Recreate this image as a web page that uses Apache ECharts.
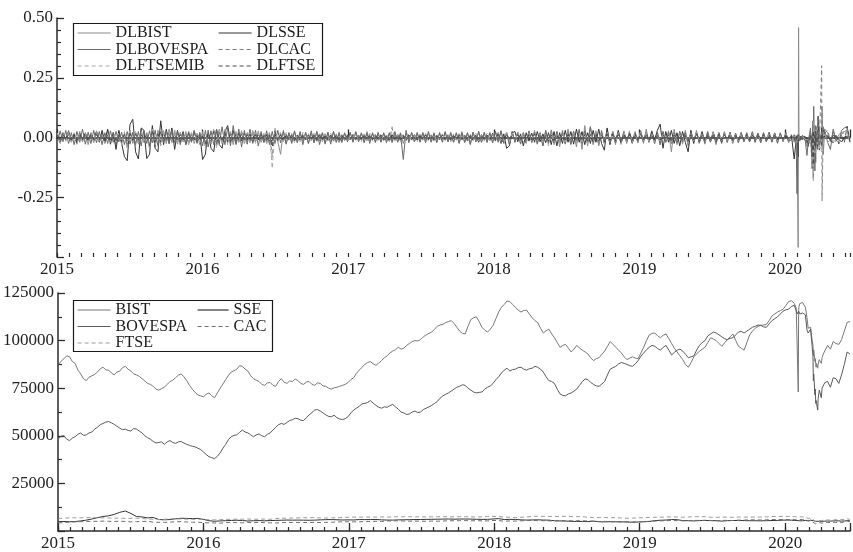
<!DOCTYPE html>
<html>
<head>
<meta charset="utf-8">
<script src="https://cdn.jsdelivr.net/npm/echarts@6/dist/echarts.min.js"></script>
<style>
  html, body { margin: 0; padding: 0; background: #fff; }
  #chart { width: 853px; height: 552px; }
</style>
</head>
<body>
<div id="chart"></div>
<script>
// Sampling: weekly from 2 Jan 2015 (returns, BIST, BOVESPA), every 14 days for the
// smaller indices, then finer dates through the 2020 sell-off
const seriesStart = '2015-01-02';
const weekCount = 263;
const fortnightCount = 132;
const tailDates = [
  '2020-01-17','2020-01-24','2020-01-29','2020-01-31','2020-02-03','2020-02-04','2020-02-05','2020-02-07',
  '2020-02-14','2020-02-21','2020-02-25','2020-02-28','2020-03-05','2020-03-09','2020-03-11','2020-03-12',
  '2020-03-13','2020-03-16','2020-03-17','2020-03-18','2020-03-19','2020-03-20','2020-03-23','2020-03-24',
  '2020-03-27','2020-04-01','2020-04-02','2020-04-03','2020-04-06','2020-04-10','2020-04-17','2020-04-24',
  '2020-05-01','2020-05-08','2020-05-15','2020-05-22','2020-05-29','2020-06-05','2020-06-12'
];
const yearLabels = [2015, 2016, 2017, 2018, 2019, 2020];

// ---- log returns (weekly grid + tail) ----
const dlBist = [
  0.018,-0.025,0.022,-0.015,0.03,-0.02,0.012,-0.028,0.025,-0.018,0.015,-0.03,0.02,
  -0.022,0.028,-0.015,0.02,-0.025,0.03,-0.018,0.022,-0.03,0.025,-0.02,0.015,-0.035,
  0.03,-0.025,0.02,-0.028,0.035,-0.022,0.018,-0.03,0.025,-0.04,0.03,-0.02,0.028,
  -0.025,0.035,-0.02,0.03,-0.028,0.022,-0.018,0.025,-0.03,0.02,-0.025,0.018,-0.03,
  0.025,-0.035,0.02,-0.028,0.03,-0.02,0.035,-0.025,0.028,-0.018,0.022,-0.03,0.025,
  -0.02,0.028,-0.025,0.018,-0.022,0.03,-0.018,0.025,-0.02,0.015,-0.025,0.02,-0.03,
  0.022,-0.018,-0.07,0.03,-0.025,0.02,-0.018,0.025,-0.022,0.018,-0.015,0.02,-0.025,
  0.018,-0.022,0.025,-0.015,0.02,-0.028,0.022,-0.018,0.025,-0.02,0.015,-0.022,0.018,
  -0.015,0.02,-0.018,0.022,-0.015,0.018,-0.02,0.025,-0.015,0.018,-0.022,0.015,-0.018,
  0.02,-0.015,0.018,-0.022,0.015,-0.018,0.02,-0.025,0.018,-0.015,0.022,-0.018,0.015,
  -0.018,0.022,-0.015,0.018,-0.02,0.015,-0.018,0.022,-0.015,0.02,-0.018,0.015,-0.02,
  0.018,-0.022,0.025,-0.018,0.02,-0.03,0.022,-0.018,0.025,-0.02,0.018,-0.022,0.02,
  -0.02,0.025,-0.018,0.028,-0.022,0.02,-0.03,0.025,-0.02,0.022,-0.028,0.02,-0.025,
  0.028,-0.022,0.03,-0.025,0.02,-0.035,0.028,-0.025,0.032,-0.03,0.025,-0.038,0.03,
  -0.028,0.035,-0.03,0.025,-0.04,0.035,-0.05,0.05,-0.035,0.045,-0.03,0.028,-0.035,
  0.03,-0.025,0.035,-0.028,0.022,-0.03,0.025,-0.02,0.028,-0.025,0.02,-0.022,0.025,
  -0.022,0.03,-0.025,0.035,-0.02,0.028,-0.025,0.022,-0.03,0.025,-0.02,0.028,-0.06,
  0.035,-0.03,0.025,-0.028,0.03,-0.035,0.025,-0.02,0.03,-0.025,0.02,-0.028,0.022,
  -0.02,0.025,-0.03,0.022,-0.018,0.025,-0.022,0.02,-0.025,0.018,-0.02,0.022,-0.018,
  0.02,-0.018,0.025,-0.02,0.018,-0.022,0.02,-0.015,0.022,-0.018,0.02,-0.025,0.018,
  -0.015,0.02,-0.022,
  0.012,-0.02,-0.015,0.01,-0.46,0.46,0.012,-0.01,0.008,-0.015,-0.035,-0.04,0.02,-0.05,0.02,-0.06,
  0.03,-0.07,0.02,-0.035,-0.02,0.025,-0.035,0.03,0.025,-0.03,0.02,0.13,-0.07,0.035,0.02,-0.018,
  0.025,-0.015,0.012,0.02,0.025,0.03,-0.015
];
const dlSse = [
  0.012,-0.02,0.018,-0.008,0.025,-0.015,0.01,-0.022,0.016,-0.01,0.02,-0.012,0.018,
  -0.015,0.025,-0.02,0.03,-0.018,0.035,-0.028,0.02,-0.05,0.03,-0.025,-0.08,-0.097,
  0.055,0.076,-0.06,-0.09,0.04,0.03,-0.088,-0.07,0.05,-0.045,-0.06,0.07,-0.03,
  0.035,-0.025,0.04,-0.05,0.03,-0.02,0.025,-0.03,0.02,-0.018,0.025,-0.02,0.015,
  -0.092,-0.07,0.03,-0.045,-0.06,0.035,-0.03,-0.045,0.025,0.05,-0.02,0.03,-0.025,
  0.02,-0.015,0.018,-0.012,0.015,-0.02,0.012,-0.01,0.015,-0.018,0.012,-0.015,-0.013,
  0.012,-0.01,0.015,-0.012,0.01,-0.008,0.012,-0.015,0.01,-0.012,0.008,-0.01,0.012,
  -0.008,0.01,-0.012,0.015,-0.01,0.008,-0.012,0.01,-0.015,0.012,-0.02,0.01,-0.012,
  0.008,-0.01,0.012,-0.008,0.01,-0.006,0.009,-0.012,0.008,-0.01,0.012,-0.008,0.01,
  -0.012,0.008,-0.015,0.01,-0.008,0.012,-0.01,0.008,-0.012,0.01,-0.008,0.012,-0.01,
  0.008,-0.01,0.012,-0.008,0.01,-0.012,0.008,-0.01,0.012,-0.008,0.01,-0.012,0.008,
  -0.01,0.012,-0.008,0.01,-0.015,0.008,-0.012,0.01,-0.02,0.012,-0.008,0.01,-0.012,
  0.018,-0.015,0.02,-0.025,0.015,-0.045,-0.035,0.02,0.025,-0.018,0.015,-0.035,0.02,
  -0.015,0.018,-0.02,0.025,-0.018,0.015,-0.022,0.02,-0.03,0.025,-0.035,0.02,-0.025,
  0.03,-0.02,0.025,-0.028,0.035,-0.02,0.025,-0.03,0.02,-0.025,0.03,-0.02,0.035,
  -0.025,-0.053,0.04,-0.03,0.025,-0.02,0.03,-0.025,0.02,-0.018,0.015,-0.022,0.018,
  -0.015,0.02,-0.012,0.018,-0.015,0.025,-0.01,0.03,0.056,-0.045,0.025,-0.02,0.03,
  -0.025,0.02,-0.035,0.025,-0.02,-0.06,0.03,-0.025,0.02,-0.018,0.025,-0.02,0.015,
  -0.018,0.02,-0.015,0.012,-0.02,0.015,-0.012,0.018,-0.015,0.01,-0.012,0.015,-0.01,
  0.012,-0.015,0.01,-0.012,0.014,-0.01,0.012,-0.015,0.01,-0.012,0.015,-0.01,0.012,
  -0.008,0.01,-0.012,
  0.008,-0.09,-0.01,0.005,-0.08,0.013,0.012,0.003,0.004,0.003,-0.006,-0.037,0.02,-0.03,-0.009,-0.015,
  -0.012,-0.034,0.001,-0.018,-0.01,0.013,-0.031,0.021,0.003,-0.006,0.017,-0.006,0.003,0.003,0.007,-0.011,
  0.008,0.004,-0.007,-0.019,0.002,0.006,0.001
];
const dlBovespa = [
  -0.022,0.028,-0.018,0.03,-0.025,0.02,-0.03,0.025,-0.02,0.035,-0.028,0.022,-0.025,
  0.03,-0.022,0.025,-0.03,0.02,-0.025,0.028,-0.02,0.025,-0.018,0.022,-0.03,0.025,
  -0.028,0.022,-0.03,0.025,-0.035,0.03,-0.025,0.028,-0.022,0.03,-0.035,0.025,-0.02,
  0.028,-0.025,0.03,-0.022,0.025,-0.03,0.02,-0.028,0.025,-0.02,0.03,-0.025,0.022,
  -0.035,0.03,-0.04,0.028,-0.03,0.035,-0.025,0.045,-0.03,0.04,-0.035,0.05,-0.03,
  0.035,-0.04,0.03,-0.028,0.035,-0.025,0.03,-0.035,0.025,-0.022,0.028,-0.03,0.025,
  -0.025,0.03,-0.022,0.025,-0.028,0.02,-0.025,0.028,-0.02,0.025,-0.03,0.022,-0.025,
  0.028,-0.022,0.025,-0.03,0.02,-0.025,0.022,-0.028,0.025,-0.02,0.022,-0.018,0.02,
  -0.018,0.022,-0.02,0.025,-0.018,0.02,-0.022,0.018,-0.025,0.02,-0.018,0.022,-0.02,
  0.018,-0.022,0.02,-0.018,0.025,-0.02,0.018,-0.092,0.03,-0.022,0.02,-0.018,0.022,
  -0.02,0.018,-0.022,0.025,-0.018,0.02,-0.022,0.018,-0.02,0.025,-0.018,0.022,-0.02,
  0.02,-0.025,0.018,-0.022,0.02,-0.028,0.022,-0.018,0.025,-0.02,0.022,-0.018,0.02,
  -0.022,0.025,-0.02,0.028,-0.025,0.022,-0.03,0.025,-0.02,0.022,-0.025,0.02,-0.022,
  0.025,-0.02,0.022,-0.028,0.02,-0.035,0.03,-0.025,0.028,-0.022,0.025,-0.02,0.022,
  -0.025,0.02,-0.028,0.025,-0.02,0.03,-0.025,0.028,-0.022,0.045,-0.025,0.02,-0.028,
  0.025,-0.022,0.02,-0.025,0.022,-0.018,0.025,-0.02,0.022,-0.018,0.02,-0.025,0.018,
  -0.02,0.025,-0.018,0.022,-0.02,0.018,-0.025,0.02,-0.03,0.025,-0.02,0.022,-0.025,
  0.02,-0.022,0.025,-0.018,0.02,-0.025,0.022,-0.018,0.02,-0.022,0.018,-0.02,0.025,
  -0.018,0.022,-0.02,0.018,-0.025,0.02,-0.018,0.022,-0.02,0.018,-0.022,0.02,-0.018,
  0.02,-0.018,0.022,-0.02,0.018,-0.022,0.02,-0.018,0.022,-0.02,0.018,-0.022,0.02,
  -0.018,0.02,-0.015,
  -0.01,0.012,-0.02,-0.235,0.015,0.02,0.018,-0.015,0.01,-0.015,-0.075,-0.02,0.04,-0.13,0.07,-0.17,
  0.13,-0.14,0.05,-0.105,0.02,-0.018,-0.05,0.09,0.035,-0.02,0.04,-0.03,0.04,0.025,-0.02,-0.05,
  0.035,-0.01,-0.02,0.03,0.04,0.045,-0.02
];
const dlCac = [
  0.012,-0.015,0.018,-0.01,0.02,-0.012,0.015,-0.018,0.01,-0.015,0.012,-0.02,0.015,
  -0.012,0.018,-0.015,0.01,-0.02,0.015,-0.012,0.018,-0.015,0.012,-0.025,0.02,-0.04,
  0.03,-0.02,0.025,-0.018,0.02,-0.015,0.018,-0.045,0.035,-0.025,0.02,-0.03,0.025,
  -0.02,0.025,-0.018,0.02,-0.015,0.018,-0.012,0.015,-0.02,0.018,-0.015,0.012,-0.018,
  0.015,-0.03,0.025,-0.02,0.03,-0.035,0.025,-0.02,0.028,-0.025,0.02,-0.018,0.022,
  -0.018,0.02,-0.015,0.018,-0.012,0.015,-0.018,0.02,-0.015,0.012,-0.018,0.015,-0.08,
  0.03,-0.015,0.018,-0.012,0.015,-0.01,0.012,-0.015,0.01,-0.012,0.015,-0.01,0.012,
  -0.01,0.012,-0.015,0.01,-0.012,0.015,-0.01,0.012,-0.008,0.01,-0.012,0.01,-0.008,
  0.01,-0.008,0.012,-0.01,0.008,-0.012,0.01,-0.008,0.012,-0.01,0.008,-0.01,0.012,
  -0.008,0.01,-0.012,0.04,-0.01,0.008,-0.012,0.01,-0.008,0.012,-0.01,0.008,-0.012,
  0.01,-0.008,0.012,-0.01,0.008,-0.012,0.01,-0.008,0.012,-0.01,0.008,-0.012,0.01,
  -0.008,0.012,-0.01,0.008,-0.012,0.01,-0.008,0.012,-0.01,0.008,-0.01,0.012,-0.008,
  0.012,-0.01,0.015,-0.012,-0.025,0.02,-0.018,0.015,-0.012,0.018,-0.015,0.012,-0.018,
  0.015,-0.012,0.018,-0.01,0.012,-0.015,0.01,-0.018,0.012,-0.015,0.01,-0.012,0.015,
  -0.012,0.015,-0.01,0.012,-0.015,0.018,-0.012,0.015,-0.02,0.015,-0.025,0.018,-0.02,
  0.015,-0.022,0.018,-0.015,0.02,-0.018,0.015,-0.025,0.02,-0.018,0.022,-0.015,0.018,
  -0.015,0.02,-0.012,0.015,-0.018,0.012,-0.015,0.01,-0.012,0.015,-0.01,0.012,-0.015,
  0.012,-0.01,0.015,-0.012,0.01,-0.02,0.015,-0.012,0.018,-0.01,0.012,-0.015,0.01,
  -0.012,0.015,-0.025,0.02,-0.012,0.015,-0.01,0.012,-0.015,0.01,-0.012,0.015,-0.01,
  0.012,-0.01,0.015,-0.008,0.01,-0.012,0.008,-0.01,0.012,-0.008,0.01,-0.012,0.008,
  -0.01,0.012,-0.008,
  0.005,-0.012,0.008,-0.015,0.005,0.017,0.013,-0.003,0.004,-0.006,-0.019,-0.035,0.02,-0.085,0.015,-0.13,
  0.018,-0.06,0.026,-0.058,0.028,0.05,-0.033,0.08,-0.042,-0.045,0.3,-0.265,0.045,0.018,0.03,-0.013,
  -0.015,-0.012,-0.005,0.015,0.02,0.034,-0.02
];
const dlFtsemib = [
  0.018,-0.022,0.02,-0.015,0.025,-0.018,0.02,-0.025,0.015,-0.02,0.018,-0.025,0.02,
  -0.018,0.025,-0.02,0.015,-0.025,0.02,-0.018,0.022,-0.02,0.018,-0.03,0.025,-0.05,
  0.035,-0.025,0.03,-0.022,0.025,-0.02,0.022,-0.05,0.04,-0.03,0.025,-0.035,0.03,
  -0.025,0.03,-0.022,0.025,-0.02,0.022,-0.018,0.02,-0.025,0.022,-0.02,0.018,-0.022,
  0.02,-0.045,0.03,-0.025,0.04,-0.045,0.03,-0.025,0.035,-0.03,0.025,-0.022,0.028,
  -0.025,0.03,-0.02,0.025,-0.018,0.022,-0.025,0.028,-0.02,0.018,-0.025,0.022,-0.13,
  0.045,-0.02,0.025,-0.018,0.022,-0.015,0.018,-0.022,0.015,-0.018,0.022,-0.015,0.018,
  -0.015,0.018,-0.022,0.015,-0.018,0.02,-0.015,0.018,-0.012,0.015,-0.018,0.015,-0.012,
  0.015,-0.012,0.018,-0.015,0.012,-0.018,0.015,-0.012,0.018,-0.015,0.012,-0.015,0.018,
  -0.012,0.015,-0.018,0.045,-0.015,0.012,-0.018,0.015,-0.012,0.018,-0.015,0.012,-0.018,
  0.015,-0.012,0.018,-0.015,0.012,-0.018,0.015,-0.012,0.018,-0.015,0.012,-0.018,0.015,
  -0.012,0.018,-0.015,0.012,-0.018,0.015,-0.012,0.018,-0.015,0.012,-0.015,0.018,-0.012,
  0.018,-0.015,0.02,-0.018,-0.025,0.022,-0.02,0.018,-0.015,0.022,-0.018,0.015,-0.022,
  0.018,-0.015,0.022,-0.012,0.015,-0.02,0.015,-0.035,0.025,-0.02,0.015,-0.018,0.02,
  -0.018,0.02,-0.015,0.018,-0.02,0.022,-0.018,0.02,-0.025,0.02,-0.03,0.022,-0.025,
  0.02,-0.028,0.022,-0.02,0.025,-0.022,0.02,-0.03,0.025,-0.022,0.028,-0.02,0.022,
  -0.02,0.025,-0.015,0.02,-0.022,0.015,-0.02,0.012,-0.015,0.02,-0.012,0.015,-0.02,
  0.015,-0.012,0.02,-0.015,0.012,-0.025,0.02,-0.015,0.022,-0.012,0.015,-0.02,0.012,
  -0.015,0.02,-0.025,0.022,-0.015,0.018,-0.012,0.015,-0.018,0.012,-0.015,0.018,-0.012,
  0.015,-0.012,0.018,-0.01,0.012,-0.015,0.01,-0.012,0.015,-0.01,0.012,-0.015,0.01,
  -0.012,0.015,-0.01,
  0.004,-0.015,0.01,-0.023,0.006,0.02,0.012,0.002,0.005,-0.01,-0.015,-0.038,0.016,-0.12,-0.012,-0.185,
  0.07,-0.065,0.03,-0.028,0.015,0.017,-0.035,0.085,-0.035,-0.044,0.015,-0.008,0.03,0.012,-0.02,-0.01,
  -0.013,-0.017,-0.015,0.015,0.023,0.03,-0.025
];
const dlFtse = [
  0.01,-0.012,0.015,-0.008,0.012,-0.01,0.015,-0.012,0.008,-0.01,0.012,-0.015,0.01,
  -0.008,0.012,-0.01,0.008,-0.015,0.012,-0.01,0.015,-0.012,0.01,-0.018,0.015,-0.02,
  0.018,-0.012,0.015,-0.01,0.012,-0.01,0.012,-0.035,0.025,-0.018,0.015,-0.02,0.018,
  -0.012,0.015,-0.01,0.012,-0.01,0.012,-0.008,0.01,-0.012,0.01,-0.01,0.008,-0.012,
  0.01,-0.025,0.02,-0.015,0.025,-0.025,0.018,-0.015,0.02,-0.018,0.015,-0.012,0.015,
  -0.012,0.015,-0.01,0.012,-0.008,0.01,-0.012,0.015,-0.01,0.008,-0.012,0.01,-0.04,
  0.025,-0.012,0.01,-0.008,0.012,-0.01,0.008,-0.012,0.01,-0.008,0.012,-0.01,0.008,
  -0.008,0.01,-0.012,0.008,-0.01,0.012,-0.008,0.01,-0.006,0.008,-0.01,0.008,-0.006,
  0.008,-0.006,0.01,-0.008,0.006,-0.01,0.008,-0.006,0.01,-0.008,0.006,-0.008,0.01,
  -0.006,0.008,-0.01,0.012,-0.008,0.006,-0.01,0.008,-0.006,0.01,-0.008,0.006,-0.01,
  0.008,-0.006,0.01,-0.008,0.006,-0.01,0.008,-0.006,0.01,-0.008,0.006,-0.01,0.008,
  -0.006,0.01,-0.008,0.006,-0.01,0.008,-0.006,0.01,-0.008,0.006,-0.008,0.01,-0.006,
  0.01,-0.008,0.012,-0.01,-0.02,0.015,-0.012,0.01,-0.008,0.012,-0.01,0.008,-0.012,
  0.012,-0.01,0.015,-0.008,0.01,-0.012,0.008,-0.015,0.01,-0.012,0.008,-0.01,0.012,
  -0.01,0.012,-0.008,0.01,-0.012,0.015,-0.01,0.012,-0.015,0.012,-0.02,0.015,-0.015,
  0.012,-0.018,0.015,-0.012,0.015,-0.015,0.012,-0.02,0.015,-0.012,0.018,-0.012,0.015,
  -0.012,0.015,-0.01,0.012,-0.015,0.01,-0.012,0.008,-0.01,0.012,-0.008,0.01,-0.012,
  0.01,-0.008,0.012,-0.01,0.008,-0.015,0.012,-0.01,0.015,-0.008,0.01,-0.012,0.008,
  -0.01,0.012,-0.02,0.015,-0.01,0.012,-0.008,0.01,-0.012,0.008,-0.01,0.012,-0.008,
  0.01,-0.008,0.012,-0.006,0.008,-0.01,0.006,-0.008,0.01,-0.006,0.008,-0.01,0.006,
  -0.008,0.01,-0.006,
  0.006,-0.012,0.01,-0.013,0.01,0.016,0.006,-0.005,-0.008,-0.004,-0.019,-0.036,0.015,-0.08,0.017,-0.115,
  0.025,-0.04,0.027,-0.043,0.014,0.009,-0.038,0.087,-0.053,-0.038,0.045,-0.012,0.03,0.015,0.005,-0.013,
  -0.022,0.015,-0.027,0.013,-0.022,0.047,-0.016
];

// ---- index levels ----
// BIST and BOVESPA: weekly grid + tail
const bist = [
  87500,89200,90500,92000,91500,89000,88000,84500,82500,80000,79000,80800,81500,82200,83500,85200,86000,84600,84500,83000,82000,83500,84000,85800,86500,85000,
  84000,82500,82000,81200,80000,78800,77500,77000,76000,74500,74000,74800,75500,77000,78500,79200,80500,81800,82500,81000,79000,76500,74500,72800,71500,71000,
  70500,71800,72500,71000,70000,72500,75000,77200,79500,81800,83500,84200,85000,86800,86500,85000,84000,81500,80000,79200,78500,77000,76500,77800,78000,76500,
  76000,78500,80000,78200,77500,78800,78500,79800,79000,77500,77000,78200,78500,77000,76500,77800,77500,76200,76000,75000,74500,75200,75500,76000,76500,77000,
  78000,79500,80500,82800,84500,86000,87500,88500,89000,87800,87000,88200,89500,91000,92000,93500,94500,95200,96500,95500,96000,97500,98500,99500,100000,99800,
  100500,102000,103000,103800,104500,106000,107500,108200,108500,109500,110000,110500,109000,107000,105000,103800,103500,107500,111000,112000,112500,110000,107000,105500,104500,106000,
  108000,111500,115000,117500,119000,120800,120500,119000,117500,116000,115000,115800,116000,114000,112000,110500,109500,106500,104000,105200,106000,103500,101500,99000,96500,97500,
  98000,96000,94000,95500,97500,96000,95000,94000,93000,91000,89500,90500,91000,92800,94500,97000,99500,98000,96500,95000,93500,91500,90000,90800,91500,90800,
  90500,93500,96500,100000,103000,103800,104000,102500,101500,102800,103500,101000,98500,96000,94000,92000,90000,87500,86000,88500,91500,93000,94500,95500,96500,99000,
  101500,100800,100000,98500,97000,98800,100500,102000,103500,100000,97000,96000,95000,99000,103000,105000,106500,107500,108000,108200,108500,110500,113000,114000,115000,115800,
  116500,118500,120500,
  121000,119500,117000,116500,73000,116000,118000,119500,120000,117500,112000,106500,107000,100000,98000,92000,
  95000,89000,90500,87500,86000,88000,85500,87500,90000,88000,89500,91000,93000,94000,97500,95500,
  99500,98500,98000,100500,105000,109500,110000
];
const bovespa = [
  48500,49800,50000,48200,47500,48800,49500,50800,51500,50200,50500,51500,52000,53500,54500,55800,56500,57200,57500,56800,56000,55000,54000,53200,53500,52800,
  52500,53800,53500,52500,51500,50000,49000,48200,47000,46200,46500,46800,45500,46800,47500,46500,46000,46800,47000,46200,45500,45000,44500,44200,43500,42800,
  41500,40200,39000,38500,38000,39200,41000,43500,45500,48000,49500,50200,50500,51800,53000,52000,51500,50500,49500,50500,51000,50000,49500,50800,51500,53000,
  54500,55800,56500,56000,57000,58000,58500,59200,59000,58200,58000,59500,61000,62200,63500,63800,63000,62000,61000,60200,60000,60800,59500,58800,58500,59000,
  60000,62000,63500,64500,65500,66800,67000,67500,68500,67200,66000,65000,64500,65200,65000,65800,66500,65200,64000,62500,62000,61200,61500,62500,63000,62200,
  62500,63800,64500,65200,66000,67000,68000,69800,71000,71800,72500,73500,74500,75500,76000,76800,76500,75000,74000,73000,72500,72800,73000,74500,75500,76200,
  77500,79500,81000,83000,84500,85500,84000,84800,85000,85800,86000,85000,84500,85200,85500,86500,86000,85000,83500,81000,79000,78500,77500,74500,72000,71200,
  71000,72000,72500,73500,74500,76500,78500,79800,79500,78000,77000,76200,76000,77200,78500,82000,85000,85800,86500,87800,88500,88000,87500,86800,86500,87800,
  89500,91800,93500,95200,96500,97500,97000,95800,95000,96500,97500,95000,92500,93800,95000,95500,94500,92800,91000,91500,92000,95000,97500,99000,100000,102500,
  103500,104500,104000,103000,102000,101000,100500,101200,101500,103000,104500,104800,104000,105000,106000,107000,107500,108200,108000,107200,107000,108800,110500,111500,112500,114000,
  115500,116200,116500,
  118000,118500,115500,114000,114500,115500,116000,114000,114500,113500,105500,104000,106000,97000,92000,79000,
  82500,71500,74500,67000,68500,67000,63500,69500,74000,70000,72500,75000,74000,78000,78500,75500,
  80500,80000,77500,82000,87500,94000,93000
];
// SSE, CAC, FTSE: 14-day grid + tail
const sse = [
  4900,5000,4850,4950,5300,5700,6300,7000,7600,8000,8700,9800,10500,
  9200,7600,7400,6900,7100,6000,5900,6000,6400,6700,6600,6500,6600,
  6100,5400,5100,5300,5400,5550,5650,5500,5250,5400,5450,5350,5500,
  5550,5650,5750,5700,5720,5680,5650,5700,5850,5950,6000,5900,5780,
  5850,5800,6000,5980,6000,6050,5850,5750,5720,5850,5880,5950,6000,
  6050,6100,6150,6200,6250,6300,6200,6280,6300,6250,6150,6100,6130,
  6300,6500,6000,6100,6080,5850,5750,5800,5880,5750,5700,5380,5300,
  5200,5100,5000,5050,4900,5200,4850,4800,4900,4850,4800,4750,4600,
  4750,4850,5000,5450,5650,5750,6000,5950,5450,5400,5300,5450,5550,
  5450,5400,5200,5400,5500,5550,5450,5400,5380,5350,5400,5500,5550,
  5700,5720,
  5680,5520,5520,5520,5100,5150,5220,5330,5380,5580,5570,5330,5680,5450,5500,5400,
  5350,5170,5150,5050,5000,5100,4930,5030,5130,5050,5150,5100,5130,5180,5250,5200,
  5300,5370,5310,5200,5280,5400,5400
];
const cac = [
  4250,4400,4700,4800,4900,5000,5100,5050,5200,5100,5000,5150,5000,
  4800,4900,5000,5100,4650,4550,4500,4650,4900,4900,4750,4600,4650,
  4400,4300,4200,4100,4400,4450,4400,4300,4450,4400,4500,4400,4300,
  4250,4350,4450,4450,4500,4450,4500,4500,4450,4550,4600,4700,4850,
  4850,4800,4850,4900,5000,5100,5000,5250,5350,5300,5250,5150,5200,
  5150,5100,5200,5150,5250,5350,5400,5400,5450,5350,5400,5350,5300,
  5500,5450,5150,5300,5200,5350,5500,5550,5450,5400,5300,5350,5400,
  5450,5350,5400,5350,5300,5100,5000,5050,4800,4900,4750,4800,4700,
  4800,4900,5100,5200,5300,5400,5500,5450,5350,5500,5550,5550,5600,
  5500,5400,5550,5600,5500,5700,5700,5900,5850,5800,5900,6000,6000,
  6050,6000,
  6100,6000,5900,5800,5830,5930,6010,6000,6080,6030,5680,5300,5450,4700,4600,4050,
  4100,3880,3990,3750,3850,4050,3950,4250,4350,4200,4250,4150,4350,4500,4500,4400,
  4550,4550,4300,4450,4700,5200,4850
];
const ftse = [
  6550,6800,6900,6950,6900,7000,7050,6950,6900,6850,6750,6800,6600,
  6650,6700,6550,6300,6100,6050,6150,6350,6400,6300,6200,6100,6250,
  6050,5900,5850,5950,6100,6150,6200,6200,6300,6150,6200,6250,6150,
  6500,6700,6750,6850,6900,7000,6950,7050,6850,6800,6950,6950,7100,
  7200,7300,7250,7300,7350,7300,7400,7300,7400,7500,7450,7500,7400,
  7450,7400,7450,7500,7550,7400,7450,7550,7550,7400,7350,7500,7650,
  7700,7600,7250,7200,7050,7200,7400,7650,7750,7700,7650,7600,7650,
  7700,7600,7550,7450,7300,7000,7050,7100,6950,7050,6800,6700,6750,
  6900,7000,7150,7200,7250,7350,7450,7350,7200,7350,7500,7550,7500,
  7200,7150,7250,7300,7150,7350,7300,7350,7250,7350,7450,7600,7650,
  7650,7600,
  7650,7600,7500,7300,7350,7450,7500,7450,7400,7400,7000,6600,6750,5950,6000,5250,
  5350,5150,5300,5100,5150,5200,4990,5450,5500,5450,5480,5420,5580,5850,5800,5750,
  5750,5950,5800,6000,6080,6450,6100
];

// ---- x positions (decimal years) ----
function buildDates(stepDays, count) {
  const t0 = Date.parse(seriesStart + 'T00:00:00Z');
  const out = [];
  for (let i = 0; i < count; i++) {
    out.push(new Date(t0 + i * stepDays * 86400000).toISOString().slice(0, 10));
  }
  return out.concat(tailDates);
}
function decimalYear(s) {
  const [y, m, d] = s.split('-').map(Number);
  const a = Date.UTC(y, 0, 1), b = Date.UTC(y + 1, 0, 1);
  return y + (Date.UTC(y, m - 1, d) - a) / (b - a);
}
const weekX = buildDates(7, weekCount).map(decimalYear);
const fortnightX = buildDates(14, fortnightCount).map(decimalYear);
function pairs(vals, xs) { return vals.map((v, i) => [xs[i], v]); }

const FONT = '"Liberation Serif", "Times New Roman", serif';
const AXIS = '#2a2a2a';
const X_MIN = yearLabels[0];
const X_MAX = 2020.446;

function yearAxis(gridIndex) {
  return {
    type: 'value', gridIndex, position: 'bottom', min: X_MIN, max: X_MAX, interval: 1,
    axisLine: { show: true, lineStyle: { color: AXIS, width: 1.5 } },
    axisTick: { show: true, inside: true, length: 8, lineStyle: { color: AXIS, width: 1.3 } },
    axisLabel: {
      formatter: v => (yearLabels.indexOf(v) >= 0 ? String(v) : ''),
      fontFamily: FONT, fontSize: 17, color: '#222', margin: 4
    },
    splitLine: { show: false }
  };
}
function monthAxis(gridIndex) {
  return {
    type: 'value', gridIndex, position: 'bottom', min: X_MIN, max: X_MAX, interval: 1 / 12,
    axisLine: { show: false },
    axisTick: { show: true, inside: true, length: 4, lineStyle: { color: AXIS, width: 1.2 } },
    axisLabel: { show: false },
    splitLine: { show: false }
  };
}
function yAxis(gridIndex, min, max, interval, minorSplit, fmt) {
  return {
    type: 'value', gridIndex, min, max, interval,
    axisLine: { show: true, lineStyle: { color: AXIS, width: 1.5 } },
    axisTick: { show: true, inside: true, length: 7, lineStyle: { color: AXIS, width: 1.3 } },
    minorTick: { show: true, splitNumber: minorSplit, length: 4, lineStyle: { color: AXIS, width: 1.2 } },
    axisLabel: { formatter: fmt, fontFamily: FONT, fontSize: 17, color: '#222', margin: 4 },
    splitLine: { show: false }
  };
}

function line(name, vals, xs, color, dashed, xi, yi) {
  return {
    name, type: 'line', data: pairs(vals, xs), xAxisIndex: xi, yAxisIndex: yi,
    symbol: 'none', showSymbol: false, silent: true,
    lineStyle: { color, width: 1, type: dashed ? [4, 3] : 'solid' },
    itemStyle: { color }
  };
}

function legendCol(names, left, top, width) {
  return {
    data: names, orient: 'vertical', left, top, padding: 0,
    itemWidth: width, itemHeight: 10, itemGap: 0.5, selectedMode: false,
    itemStyle: { opacity: 0, borderWidth: 0 },
    lineStyle: { width: 1.2 },
    textStyle: { fontFamily: FONT, fontSize: 16, color: '#1a1a1a', lineHeight: 15 }
  };
}

const chart = echarts.init(document.getElementById('chart'), null, { renderer: 'canvas' });
chart.setOption({
  animation: false,
  backgroundColor: '#fff',
  grid: [
    { left: 57, right: 2, top: 18, height: 239 },
    { left: 57, right: 2, top: 293, height: 241 }
  ],
  xAxis: [yearAxis(0), monthAxis(0), yearAxis(1), monthAxis(1)],
  yAxis: [
    yAxis(0, -0.5, 0.5, 0.25, 5, v => (v <= -0.5 ? '' : v.toFixed(2))),
    yAxis(1, 0, 125000, 25000, 2, v => (v === 0 ? '' : String(v)))
  ],
  legend: [
    legendCol(['DLBIST', 'DLBOVESPA', 'DLFTSEMIB'], 77, 25, 33),
    legendCol(['DLSSE', 'DLCAC', 'DLFTSE'], 218, 25, 33),
    legendCol(['BIST', 'BOVESPA', 'FTSE'], 77, 302, 33),
    legendCol(['SSE', 'CAC'], 197, 302, 31)
  ],
  graphic: [
    { type: 'rect', z: 3, silent: true, shape: { x: 73.5, y: 23.5, width: 249, height: 52 },
      style: { fill: '#fff', stroke: '#1a1a1a', lineWidth: 1.2 } },
    { type: 'rect', z: 3, silent: true, shape: { x: 73.5, y: 300.5, width: 199, height: 51 },
      style: { fill: '#fff', stroke: '#1a1a1a', lineWidth: 1.2 } }
  ],
  series: [
    line('DLBIST', dlBist, weekX, '#8a8a8a', false, 0, 0),
    line('DLSSE', dlSse, weekX, '#333333', false, 0, 0),
    line('DLBOVESPA', dlBovespa, weekX, '#6a6a6a', false, 0, 0),
    line('DLCAC', dlCac, weekX, '#7c7c7c', true, 0, 0),
    line('DLFTSEMIB', dlFtsemib, weekX, '#a6a6a6', true, 0, 0),
    line('DLFTSE', dlFtse, weekX, '#4a4a4a', true, 0, 0),
    line('BIST', bist, weekX, '#777777', false, 2, 1),
    line('SSE', sse, fortnightX, '#333333', false, 2, 1),
    line('BOVESPA', bovespa, weekX, '#5a5a5a', false, 2, 1),
    line('CAC', cac, fortnightX, '#6e6e6e', true, 2, 1),
    line('FTSE', ftse, fortnightX, '#9a9a9a', true, 2, 1)
  ]
});
</script>
</body>
</html>
